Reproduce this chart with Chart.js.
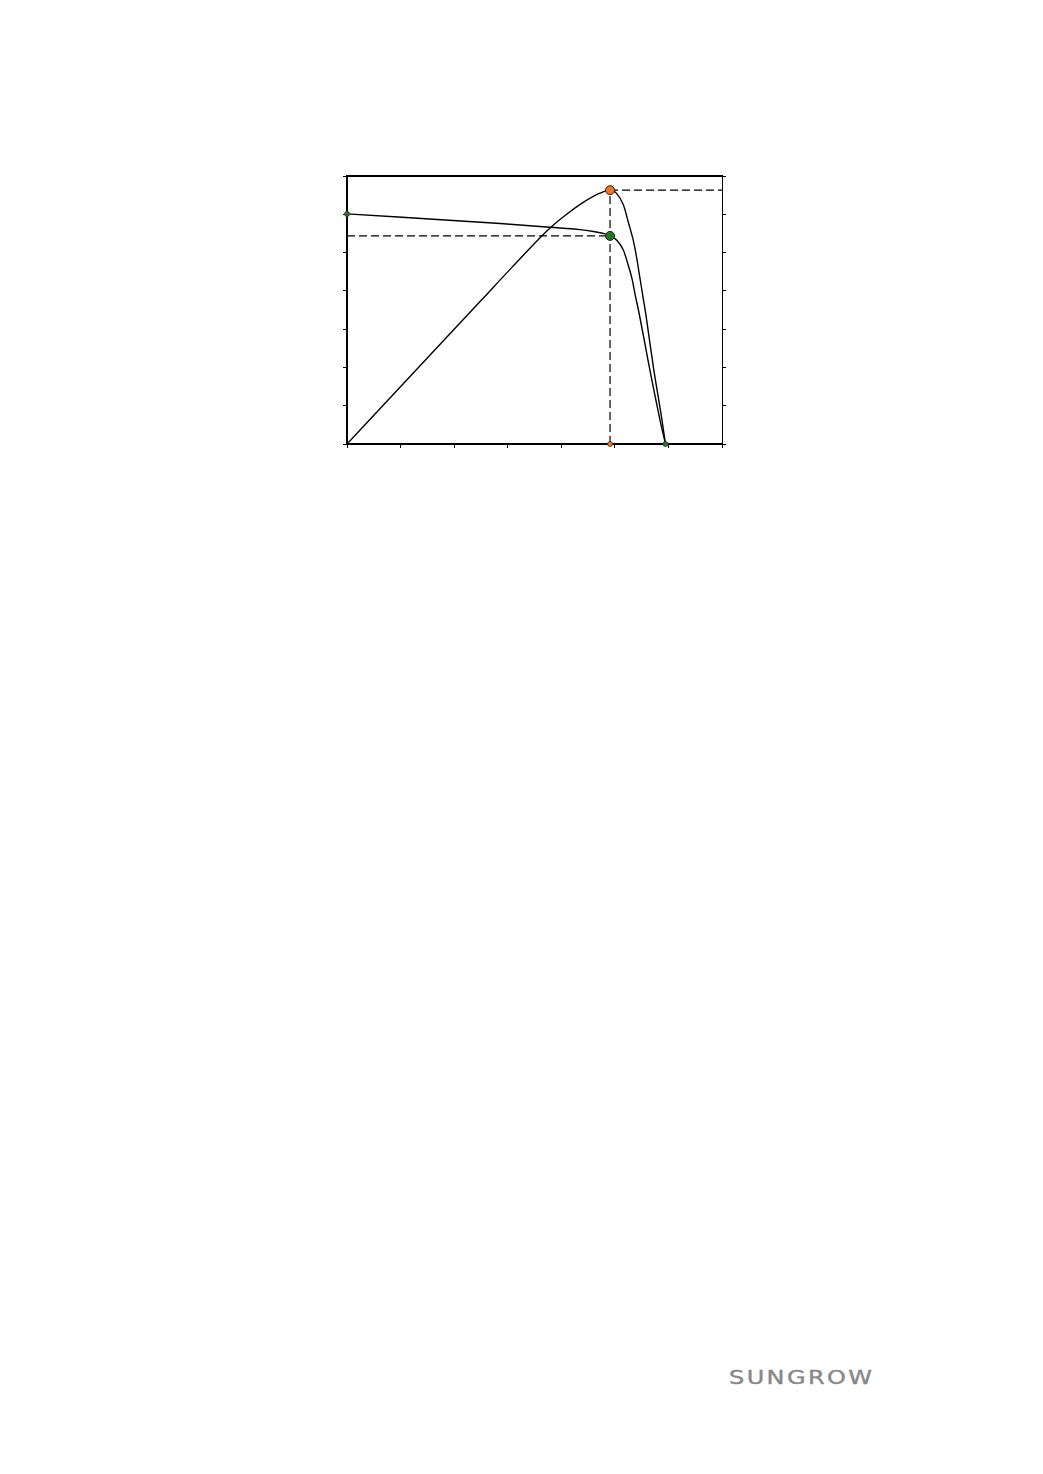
<!DOCTYPE html>
<html>
<head>
<meta charset="utf-8">
<script src="https://cdn.jsdelivr.net/npm/chart.js@4.4.1/dist/chart.umd.min.js"></script>
<style>
    html, body { margin: 0; padding: 0; background: #fff; }
    body { width: 1043px; height: 1474px; position: relative; overflow: hidden; }
    #wrap { position: absolute; left: 330px; top: 160px; width: 410px; height: 300px; }
    #logo {
        position: absolute; left: 729px; top: 1365px;
        font-family: "DejaVu Sans", sans-serif; font-size: 20px; letter-spacing: 2px;
        color: #888; -webkit-text-stroke: 0.4px #888;
        transform: scaleX(1.2); transform-origin: left top;
    }
</style>
</head>
<body>
<div id="wrap"><canvas id="pv"></canvas></div>
<div id="logo">SUNGROW</div>
<script>
// I-V curve (voltage, current), axis units 0..7
const ivVoltage = [0, 2.86, 3.79, 4.35, 4.60, 4.82, 4.91, 5.036, 5.16, 5.25, 5.32, 5.38, 5.44, 5.66, 5.85, 5.945];
const ivCurrent = [6.01, 5.76, 5.66, 5.60, 5.55, 5.49, 5.435, 5.32, 5.06, 4.67, 4.32, 3.89, 3.50, 1.89, 0.58, 0];

// P-V curve (voltage, power)
const pvVoltage = [0, 2.51, 3.07, 3.79, 4.10, 4.41, 4.72, 4.91, 5.036, 5.16, 5.25, 5.35, 5.41, 5.47, 5.53, 5.58, 5.72, 5.88, 5.945];
const pvPower = [0, 3.76, 4.60, 5.64, 6.00, 6.31, 6.55, 6.63, 6.54, 6.24, 5.80, 5.28, 4.84, 4.32, 3.80, 3.37, 2.00, 0.62, 0];

// key points
const iscPoint = { x: 0, y: 6.01 };
const mppVoltage = 4.91;
const mppCurrent = 5.435;
const mppPower = 6.63;
const vocVoltage = 5.945;

const axisTicks = [0, 1, 2, 3, 4, 5, 6, 7];

const toXY = (xs, ys) => xs.map((x, i) => ({ x: x, y: ys[i] }));

const green = "#1f7a1f";
const orange = "#f47320";

const dashed = {
    showLine: true,
    borderColor: "#000",
    borderWidth: 1.2,
    borderDash: [8, 4],
    pointRadius: 0,
    fill: false,
    order: 5,
};

const tickAxis = (position, borderWidth) => ({
    type: "linear",
    position: position,
    min: axisTicks[0],
    max: axisTicks[axisTicks.length - 1],
    afterBuildTicks: (s) => { s.ticks = axisTicks.map((v) => ({ value: v })); },
    ticks: { display: false },
    grid: { drawOnChartArea: false, drawTicks: true, tickLength: 4, color: "#000", lineWidth: 1 },
    border: { display: true, color: "#000", width: borderWidth },
});

const ctx = document.getElementById("pv").getContext("2d");
new Chart(ctx, {
    type: "scatter",
    data: {
        datasets: [
            {
                label: "MPP",
                data: [{ x: mppVoltage, y: mppPower }, { x: mppVoltage, y: mppCurrent }],
                pointRadius: 4.5,
                pointBackgroundColor: [orange, green],
                pointBorderColor: "#222",
                pointBorderWidth: 1,
                clip: false,
                order: 1,
            },
            {
                label: "small",
                data: [iscPoint, { x: mppVoltage, y: 0 }, { x: vocVoltage, y: 0 }],
                pointRadius: 2.5,
                pointBackgroundColor: [green, orange, green],
                pointBorderColor: "#333",
                pointBorderWidth: 0.8,
                clip: false,
                order: 1,
            },
            {
                label: "I-V",
                data: toXY(ivVoltage, ivCurrent),
                showLine: true,
                borderColor: "#000",
                borderWidth: 1.4,
                cubicInterpolationMode: "monotone",
                pointRadius: 0,
                order: 3,
            },
            {
                label: "P-V",
                data: toXY(pvVoltage, pvPower),
                showLine: true,
                borderColor: "#000",
                borderWidth: 1.4,
                cubicInterpolationMode: "monotone",
                pointRadius: 0,
                order: 3,
            },
            Object.assign({ label: "Impp", data: [{ x: 0, y: mppCurrent }, { x: mppVoltage, y: mppCurrent }] }, dashed),
            Object.assign({ label: "Vmpp", data: [{ x: mppVoltage, y: 0 }, { x: mppVoltage, y: mppPower }] }, dashed),
            Object.assign({ label: "Pmpp", data: [{ x: mppVoltage, y: mppPower }, { x: axisTicks[axisTicks.length - 1], y: mppPower }] }, dashed),
        ],
    },
    options: {
        responsive: true,
        maintainAspectRatio: false,
        animation: false,
        layout: {
            padding: { left: 13, right: 14, top: 16, bottom: 12 },
        },
        plugins: {
            legend: { display: false },
            tooltip: { enabled: false },
        },
        scales: {
            x: tickAxis("bottom", 2),
            xTop: {
                type: "linear",
                position: "top",
                min: axisTicks[0],
                max: axisTicks[axisTicks.length - 1],
                ticks: { display: false },
                grid: { display: false, drawOnChartArea: false, drawTicks: false },
                border: { display: true, color: "#000", width: 2 },
            },
            y: tickAxis("left", 2),
            yRight: tickAxis("right", 1),
        },
    },
});
</script>
</body>
</html>
